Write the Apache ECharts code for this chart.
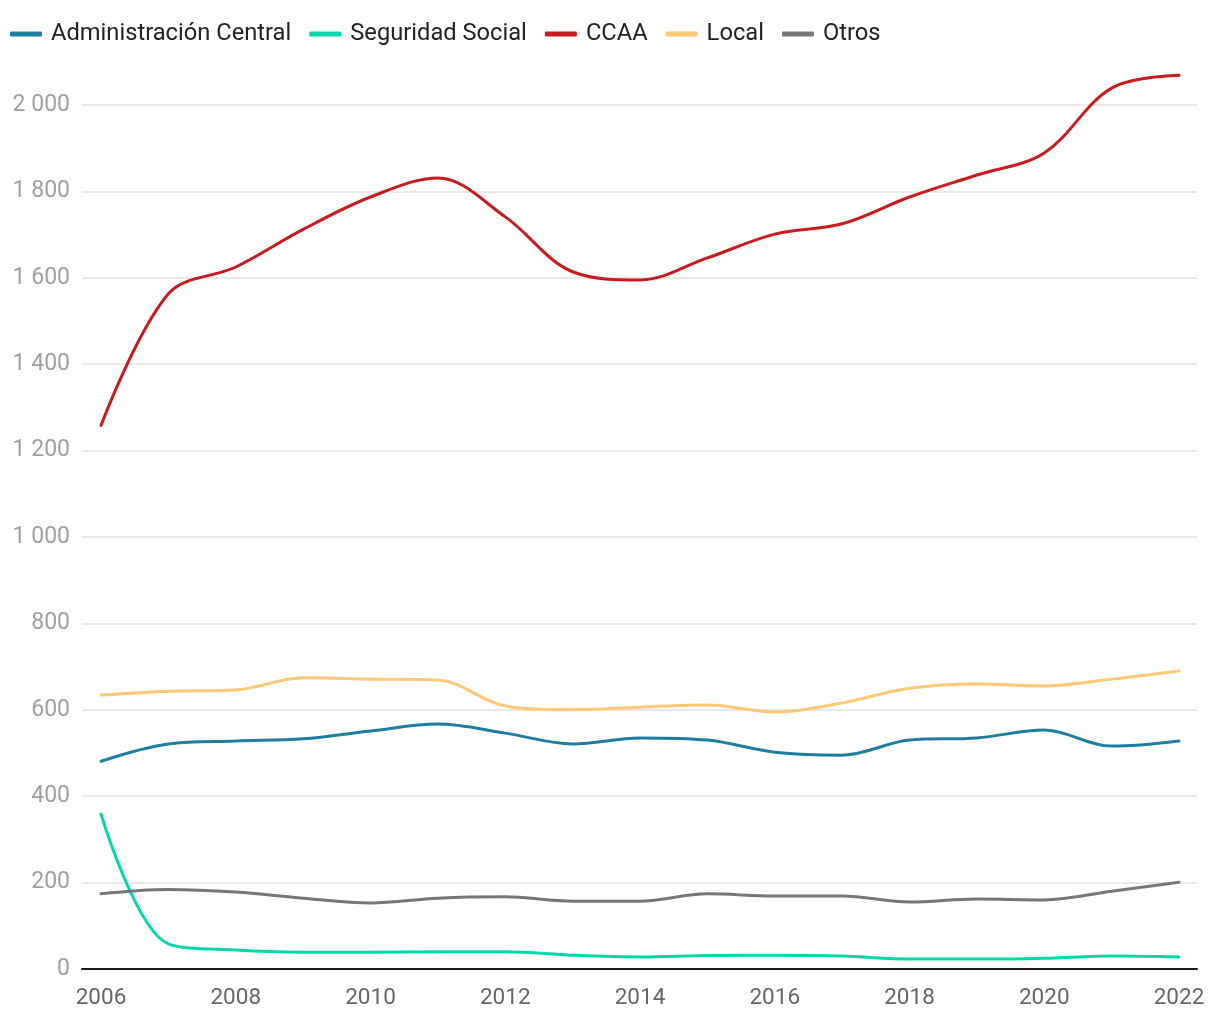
<!DOCTYPE html>
<html><head><meta charset="utf-8">
<script src="https://cdn.jsdelivr.net/npm/echarts@6/dist/echarts.min.js"></script>
<style>html,body{margin:0;padding:0;background:#fff}#c{width:1220px;height:1020px}</style>
</head><body><div id="c"></div>
<script>
const years = [2006,2007,2008,2009,2010,2011,2012,2013,2014,2015,2016,2017,2018,2019,2020,2021,2022];
const xTickLabels = [2006,2008,2010,2012,2014,2016,2018,2020,2022];
const yTicks = [0,200,400,600,800,1000,1200,1400,1600,1800,2000];
const adminCentral = [481,521,528,533,551,567,546,521,535,530,502,495,530,535,553,516,528];
const seguridadSocial = [359,58,44,39,39,40,40,32,28,31,32,30,23,23,25,30,28];
const ccaa = [1258,1563,1625,1712,1787,1831,1741,1614,1595,1646,1701,1725,1787,1838,1889,2039,2069];
const local = [634,643,646,674,671,669,609,600,606,611,595,616,650,660,655,671,690];
const otros = [174,184,178,164,153,164,167,157,157,174,169,169,155,162,160,180,201];

const names = ['Administración Central','Seguridad Social','CCAA','Local','Otros'];
const colors = ['#1d7fa0','#00d9a7','#c91b1f','#fec874','#777777'];
const data = [adminCentral, seguridadSocial, ccaa, local, otros];

const chart = echarts.init(document.getElementById('c'));
const font = 'Roboto';
chart.setOption({
  animation:false,
  textStyle:{fontFamily:font},
  color: colors,
  legend:{
    left: 5, top: 17, itemWidth: 32, itemHeight: 5, itemGap: 18, icon:'roundRect',
    textStyle:{fontFamily:font, fontSize:23.7, color:'#222', padding:[0,0,0,4]},
    data: names
  },
  grid:{left:82, right:23, top:105, bottom:51, containLabel:false},
  xAxis:{
    type:'value', min:2005.718, max:2022.267,
    axisLine:{show:true, onZero:false, lineStyle:{color:'#1a1a1a', width:2}},
    axisTick:{show:false},
    splitLine:{show:false},
    axisLabel:{customValues:xTickLabels, color:'#666', fontSize:22.5, margin:18, fontFamily:font, formatter:v=>String(v)}
  },
  yAxis:{
    type:'value', min:0, max:2000, interval:200,
    axisLine:{show:false}, axisTick:{show:false},
    splitLine:{lineStyle:{color:'#e2e2e2', width:1.5}},
    axisLabel:{color:'#a0a0a0', fontSize:23, margin:12, fontFamily:font,
      formatter:v=> v>=1000 ? Math.floor(v/1000)+' '+String(v%1000).padStart(3,'0') : String(v)}
  },
  series: names.map((n,i)=>({
    name:n, type:'line', smooth:0.35, showSymbol:false, clip:false,
    lineStyle:{width:3, color:colors[i], cap:'round'},
    itemStyle:{color:colors[i]},
    data: years.map((y,j)=>[y,data[i][j]])
  }))
});
</script></body></html>
